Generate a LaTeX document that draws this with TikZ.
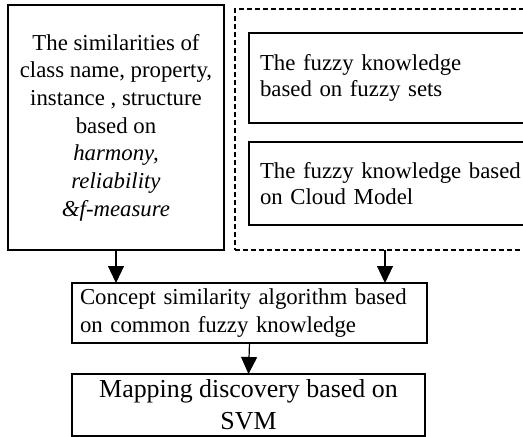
\documentclass[tikz,border=0pt]{standalone}
\usepackage{fontspec}
\setmainfont{Liberation Serif}
\usetikzlibrary{arrows.meta}
\begin{document}
\begin{tikzpicture}[x=1pt,y=-1pt,
  box/.style={draw=black, line width=1.2pt, inner sep=0pt, outer sep=0pt},
  arr/.style={line width=1.2pt, -{Triangle[length=17pt,width=16pt]}},
  txt/.style={font=\fontsize{22.8}{27.7}\selectfont},
  txtb/.style={font=\fontsize{22.8}{26.7}\selectfont}]
\useasboundingbox (0,0) rectangle (523,437);
\node[box, txt, minimum width=216pt, minimum height=245pt, align=center] (sim) at (116,127.5)
  {The similarities of\\class name, property,\\instance , structure\\based on\\\textit{harmony,}\\\textit{reliability}\\\textit{\&f-measure}};
\node[box, dashed, dash pattern=on 5pt off 3pt, minimum width=300pt, minimum height=241pt] (fk) at (385,129.5) {};
\node[box, txtb, inner xsep=11pt, text width=278pt, minimum height=90pt, align=left] (fs) at (399,78)
  {The fuzzy knowledge\\based on fuzzy sets};
\node[box, txtb, inner xsep=11pt, text width=278pt, minimum height=83pt, align=left] (cm) at (399,183.5)
  {The fuzzy knowledge based\\on Cloud Model};
\node[box, font=\fontsize{22.8}{28}\selectfont, inner xsep=8pt, text width=339pt, minimum height=60pt, align=left] (con) at (249.5,313)
  {Concept similarity algorithm based\\on common fuzzy knowledge};
\node[box, font=\fontsize{25.9}{31.7}\selectfont, minimum width=353pt, minimum height=62pt, align=center] (map) at (248.5,405)
  {Mapping discovery based on\\SVM};
\draw[arr] (sim.south) -- (sim.south |- con.north);
\draw[arr] (fk.south) -- (fk.south |- con.north);
\draw[arr] (con.south) -- (map.north);
\end{tikzpicture}
\end{document}
